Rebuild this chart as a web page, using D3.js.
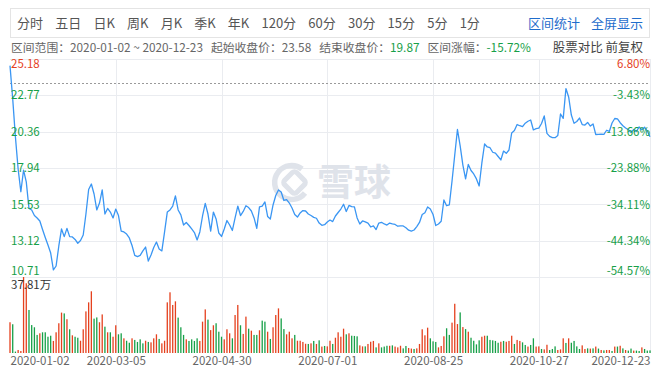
<!DOCTYPE html>
<html>
<head>
<meta charset="utf-8">
<script src="https://cdn.jsdelivr.net/npm/d3@7"></script>
<style>
body { margin: 0; background: #fff; }
#chart { width: 657px; height: 373px; }
text { font-family: "Noto Sans CJK SC", "Microsoft YaHei", sans-serif; }
</style>
</head>
<body>
<div id="chart"></div>
<script>
// daily close, 2020-01-02 .. 2020-12-23
var prices = [
    24.74, 22.53, 20.00, 17.88, 16.37, 17.81, 17.02, 15.26, 15.16, 14.79,
    14.63, 14.43, 13.86, 13.33, 12.83, 12.30, 11.18, 11.44, 12.77, 13.90,
    13.39, 13.94, 13.39, 13.37, 13.20, 12.95, 13.13, 13.50, 14.89, 16.52,
    16.88, 16.22, 15.16, 15.62, 16.49, 14.89, 15.26, 15.02, 14.63, 15.22,
    14.79, 13.76, 13.70, 13.56, 13.30, 12.80, 12.15, 12.06, 12.14, 12.44,
    12.70, 11.77, 12.17, 12.67, 13.03, 12.57, 12.44, 13.70, 15.02, 15.16,
    15.42, 16.09, 15.16, 14.83, 14.16, 14.33, 14.13, 13.90, 13.66, 13.17,
    13.70, 14.76, 15.60, 14.89, 13.76, 15.02, 14.56, 13.63, 13.40, 13.90,
    14.46, 14.16, 13.80, 14.63, 15.42, 14.79, 15.06, 15.44, 15.32, 15.09,
    14.63, 13.94, 15.36, 15.42, 15.69, 14.73, 14.56, 15.49, 16.12, 16.49,
    16.35, 15.79, 15.85, 15.62, 15.29, 14.86, 14.69, 14.96, 15.12, 15.09,
    14.89, 14.79, 14.67, 14.61, 14.29, 14.14, 14.18, 14.36, 14.49,
    14.39, 14.76, 14.99, 15.22, 15.54, 15.06, 15.46, 15.38, 15.36, 14.63,
    14.23, 14.43, 14.37, 14.29, 14.03, 14.10, 13.86, 14.29, 14.34, 14.23,
    14.16, 14.29, 14.23, 14.20, 14.08, 14.11, 14.10, 13.98, 13.82, 13.76,
    13.83, 14.06, 14.33, 14.86, 14.98, 15.36, 15.22, 14.86, 14.13, 14.23,
    14.41, 15.82, 15.44, 15.49, 17.08, 18.81, 20.50, 19.41, 18.14, 17.22,
    18.18, 17.78, 17.55, 17.22, 16.75, 18.28, 19.54, 19.34, 19.29,
    18.99, 18.93, 18.71, 18.48, 19.07, 18.92, 19.14, 20.27, 20.43, 20.83,
    20.75, 20.69, 20.92, 21.05, 21.13, 20.47, 20.56, 20.59, 20.90, 21.40,
    20.24, 20.04, 19.96, 19.96, 20.10, 21.53, 21.24, 23.22, 22.66, 21.46,
    20.91, 21.03, 21.26, 20.83, 20.80, 20.97, 20.73, 20.87, 20.17, 20.18,
    20.20, 20.18, 20.45, 20.37, 20.93, 21.23, 21.20, 20.95, 20.75, 20.60,
    20.49, 20.30, 20.50, 20.37, 20.67, 20.48, 20.65, 20.40, 20.02
];

// volume in 万
var volumes = [
    15.3, 14.3, 0.7, 1.5, 1.0, 37.81, 34.7, 21.4, 13.9, 12.8,
    9.0, 9.8, 10.3, 10.3, 8.1, 8.6, 6.0, 10.3, 14.8, 20.1,
    19.7, 16.8, 11.8, 8.8, 8.1, 7.6, 6.1, 11.8, 20.7, 25.2,
    30.7, 17.1, 17.7, 15.3, 19.2, 13.1, 10.3, 10.3, 8.1, 13.8,
    9.3, 9.8, 7.3, 6.1, 5.1, 7.3, 6.5, 5.5, 6.8, 4.8,
    6.1, 5.5, 5.3, 7.3, 9.3, 7.0, 4.8, 6.1, 25.2, 30.2,
    23.9, 25.7, 17.6, 12.8, 9.0, 6.8, 6.0, 6.8, 6.0, 7.3,
    6.0, 15.6, 21.7, 16.6, 11.4, 13.8, 14.8, 10.6, 8.1, 6.8,
    11.8, 9.8, 7.3, 18.9, 23.9, 13.8, 9.5, 18.1, 12.1, 11.1,
    9.0, 9.0, 11.3, 16.1, 15.6, 10.6, 7.0, 12.8, 18.9, 22.2,
    17.2, 11.9, 9.3, 10.6, 7.3, 9.0, 6.1, 6.1, 5.5, 4.6,
    4.5, 4.8, 6.0, 4.5, 6.3, 3.2, 3.5, 3.3, 6.1, 4.5,
    7.6, 10.3, 8.1, 12.1, 9.3, 9.8, 8.6, 8.5, 8.3, 3.8,
    3.3, 3.3, 4.5, 5.6, 6.0, 2.8, 4.8, 2.8, 3.2, 3.6,
    3.6, 3.8, 3.2, 2.8, 3.6, 2.3, 3.5, 2.5, 2.2, 2.0,
    2.3, 4.5, 11.8, 8.8, 12.6, 7.3, 5.8, 5.5, 2.8, 3.5,
    8.3, 12.3, 9.0, 15.1, 24.5, 14.4, 20.2, 12.9, 11.9, 10.6,
    7.6, 6.1, 4.3, 6.3, 8.1, 8.6, 8.6, 6.5, 6.3, 6.0,
    5.1, 5.6, 6.0, 5.6, 6.0, 8.6, 4.5, 6.5, 6.0, 5.3,
    4.0, 3.2, 4.0, 7.3, 3.2, 3.3, 2.0, 1.8, 4.1, 1.5,
    2.0, 3.3, 1.5, 1.8, 7.3, 5.0, 7.3, 5.1, 6.0, 3.3,
    2.0, 3.8, 2.0, 2.3, 2.2, 2.3, 3.2, 2.2, 1.5, 1.3,
    1.5, 1.5, 1.0, 3.2, 3.2, 3.6, 2.3, 1.5, 1.2, 2.2,
    1.2, 1.2, 1.0, 2.8, 2.0, 1.2, 1.3
];

// 1 = up day (red), 0 = down day (green)
var volumeUp = [
    1, 0, 0, 1, 1, 1, 1, 0, 0, 0,
    0, 1, 0, 0, 0, 0, 1, 1, 1, 1,
    0, 1, 0, 1, 0, 0, 1, 1, 1, 1,
    1, 0, 0, 1, 1, 0, 1, 0, 1, 1,
    0, 0, 1, 0, 0, 1, 0, 0, 0, 0,
    1, 0, 1, 1, 1, 0, 1, 1, 1, 1,
    1, 1, 0, 0, 0, 1, 0, 0, 0, 0,
    1, 1, 1, 0, 1, 1, 0, 0, 0, 1,
    1, 1, 0, 1, 1, 0, 1, 1, 0, 1,
    0, 0, 1, 0, 0, 1, 0, 1, 1, 1,
    0, 0, 1, 1, 1, 0, 1, 1, 1, 1,
    0, 1, 0, 1, 0, 1, 0, 1, 1, 0,
    1, 1, 1, 1, 0, 1, 0, 0, 0, 1,
    1, 0, 1, 1, 1, 0, 1, 0, 0, 0,
    1, 0, 1, 1, 1, 0, 0, 1, 1, 0,
    1, 1, 1, 1, 1, 0, 0, 0, 1, 1,
    1, 0, 0, 1, 1, 1, 0, 1, 0, 1,
    0, 0, 0, 0, 1, 1, 0, 0, 0, 0,
    0, 1, 0, 1, 1, 1, 0, 1, 1, 0,
    0, 1, 0, 0, 1, 1, 0, 1, 1, 0,
    0, 0, 1, 1, 1, 0, 1, 0, 0, 0,
    0, 1, 1, 0, 1, 0, 1, 0, 1, 0,
    1, 1, 0, 1, 0, 1, 0, 1, 0, 0,
    1, 0, 0, 1, 0, 0, 0
];

var priceTicks = [10.71, 13.12, 15.53, 17.94, 20.36, 22.77, 25.18];
var percentTicks = ['-54.57%', '-44.34%', '-34.11%', '-23.88%', '-13.66%', '-3.43%', '6.80%'];
var dateTickIndex = [0, 39, 78, 117, 156, 195, 236];
var dateTicks = ['2020-01-02', '2020-03-05', '2020-04-30', '2020-07-01', '2020-08-25', '2020-10-27', '2020-12-23'];
var periods = ['分时', '五日', '日K', '周K', '月K', '季K', '年K', '120分', '60分', '30分', '15分', '5分', '1分'];
var startPrice = 23.58;
var endPrice = 19.87;
var rangeChange = '-15.72%';
var volumeMaxLabel = '37.81万';

var RED = '#e5411e';
var GREEN = '#17a048';
var BLUE = '#3a96f3';
var GRID = '#eaecf0';

function formatTranslate(x, y) {
    return 'translate(' + (x || 0) + ',' + (y || 0) + ')';
}

var W = 657, H = 373;
var plotLeft = 10, plotRight = 650, plotTop = 59, priceBottom = 277, volBottom = 353;

var svg = d3.select('#chart').append('svg')
    .attr('width', W)
    .attr('height', H);

// toolbar
svg.append('rect')
    .attr('x', 10.5).attr('y', 8.5)
    .attr('width', 639).attr('height', 29)
    .attr('fill', '#fff')
    .attr('stroke', '#e4e4e4');

var bar = svg.append('g').attr('font-size', 13).attr('fill', '#555');
var bx = 17;
periods.forEach(function (p) {
    var t = bar.append('text').attr('x', bx).attr('y', 28).text(p);
    bx += t.node().getComputedTextLength() + 12.2;
});
bar.append('text').attr('x', 643).attr('y', 28).attr('text-anchor', 'end')
    .attr('fill', '#1f6dcc').text('全屏显示');
bar.append('text').attr('x', 580).attr('y', 28).attr('text-anchor', 'end')
    .attr('fill', '#1f6dcc').text('区间统计');

// summary line
var info = svg.append('text')
    .attr('x', 11).attr('y', 52)
    .attr('font-size', 11.8)
    .attr('fill', '#666');
info.append('tspan').text('区间范围：' + dateTicks[0] + ' ~ ' + dateTicks[dateTicks.length - 1]);
info.append('tspan').attr('dx', 8).text('起始收盘价：' + startPrice.toFixed(2));
info.append('tspan').attr('dx', 8).text('结束收盘价：');
info.append('tspan').attr('fill', GREEN).text(endPrice.toFixed(2));
info.append('tspan').attr('dx', 8).text('区间涨幅：');
info.append('tspan').attr('fill', GREEN).text(rangeChange);

svg.append('text')
    .attr('x', 643).attr('y', 52)
    .attr('font-size', 12.5)
    .attr('fill', '#444')
    .attr('text-anchor', 'end')
    .text('股票对比 前复权');

// scales
var x = d3.scaleLinear().domain([0, prices.length - 1]).range([plotLeft, plotRight]);
var yPrice = d3.scaleLinear().domain([priceTicks[0], priceTicks[priceTicks.length - 1]]).range([priceBottom, plotTop]);
var yVol = d3.scaleLinear().domain([0, d3.max(volumes)]).range([volBottom, priceBottom]);

// grid
var grid = svg.append('g').attr('stroke', GRID).attr('stroke-width', 1);
priceTicks.forEach(function (p) {
    var y = Math.round(yPrice(p)) + 0.5;
    grid.append('line').attr('x1', plotLeft).attr('x2', plotRight).attr('y1', y).attr('y2', y);
});
dateTickIndex.slice(1, -1).forEach(function (d) {
    var gx = Math.round(x(d)) + 0.5;
    grid.append('line').attr('x1', gx).attr('x2', gx).attr('y1', plotTop).attr('y2', volBottom);
});
grid.append('line').attr('x1', plotRight + 0.5).attr('x2', plotRight + 0.5).attr('y1', plotTop).attr('y2', volBottom);

// watermark
var wm = svg.append('g').attr('transform', formatTranslate(272, 163)).attr('fill', 'none').attr('stroke', '#dfe3ea');
wm.append('path')
    .attr('d', 'M30,6 A17,17 0 1 0 33,30')
    .attr('stroke-width', 5.5);
wm.append('rect')
    .attr('x', 14).attr('y', 11).attr('width', 17).attr('height', 17).attr('rx', 3)
    .attr('transform', 'rotate(45,22.5,19.5)')
    .attr('stroke-width', 5);
svg.append('text')
    .attr('x', 317).attr('y', 196)
    .attr('font-size', 37)
    .attr('font-weight', 'bold')
    .attr('fill', '#dfe3ea')
    .text('雪球');

// start price reference
svg.append('line')
    .attr('x1', plotLeft).attr('x2', plotRight)
    .attr('y1', Math.round(yPrice(startPrice)) + 0.5)
    .attr('y2', Math.round(yPrice(startPrice)) + 0.5)
    .attr('stroke', '#9a9a9a')
    .attr('stroke-dasharray', '2,2');

// volume bars
svg.append('g').selectAll('rect')
    .data(volumes)
    .join('rect')
    .attr('x', function (d, i) { return x(i) - 0.65; })
    .attr('y', function (d) { return yVol(d); })
    .attr('width', 1.3)
    .attr('height', function (d) { return volBottom - yVol(d); })
    .attr('fill', function (d, i) { return volumeUp[i] ? RED : GREEN; });

// price line
var line = d3.line()
    .x(function (d, i) { return x(i); })
    .y(function (d) { return yPrice(d); });

svg.append('path')
    .datum(prices)
    .attr('d', line)
    .attr('fill', 'none')
    .attr('stroke', BLUE)
    .attr('stroke-width', 1.3)
    .attr('stroke-linejoin', 'round');

// axes
function styleAxis(g) {
    g.select('.domain').remove();
    g.selectAll('text')
        .attr('font-family', '"Noto Sans CJK SC", sans-serif')
        .attr('font-size', 11.5);
}

function tickColor(d) {
    return d > startPrice ? RED : GREEN;
}

var leftAxis = svg.append('g')
    .attr('transform', formatTranslate(plotLeft, 0))
    .call(d3.axisRight(yPrice).tickValues(priceTicks).tickSize(0).tickPadding(1).tickFormat(d3.format('.2f')))
    .call(styleAxis);
leftAxis.selectAll('text').attr('fill', tickColor);

var rightAxis = svg.append('g')
    .attr('transform', formatTranslate(plotRight, 0))
    .call(d3.axisLeft(yPrice).tickValues(priceTicks).tickSize(0).tickPadding(0)
        .tickFormat(function (d, i) { return percentTicks[i]; }))
    .call(styleAxis);
rightAxis.selectAll('text').attr('fill', tickColor);

[leftAxis, rightAxis].forEach(function (a) {
    a.selectAll('.tick text')
        .attr('transform', function (d, i) {
            if (i === 0) return formatTranslate(0, -6);
            if (i === priceTicks.length - 1) return formatTranslate(0, 5);
            return null;
        });
});

svg.append('text')
    .attr('x', 11).attr('y', 289)
    .attr('font-size', 11.5)
    .attr('fill', '#333')
    .text(volumeMaxLabel);

var bottomAxis = svg.append('g')
    .attr('transform', formatTranslate(0, volBottom))
    .call(d3.axisBottom(x).tickValues(dateTickIndex).tickSize(0).tickPadding(4)
        .tickFormat(function (d, i) { return dateTicks[i]; }))
    .call(styleAxis);
bottomAxis.selectAll('text')
    .attr('fill', '#666')
    .attr('text-anchor', function (d, i) {
        if (i === 0) return 'start';
        if (i === dateTicks.length - 1) return 'end';
        return 'middle';
    });
</script>
</body>
</html>
